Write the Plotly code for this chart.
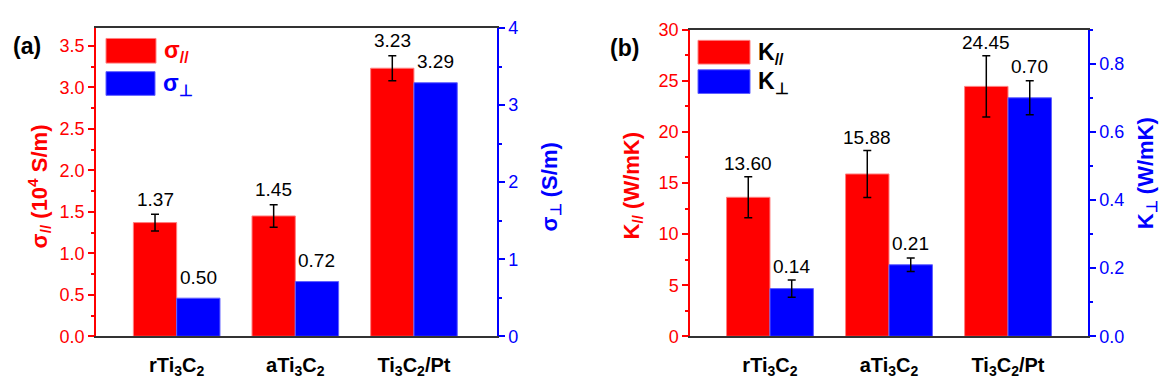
import plotly.graph_objects as go

W, H = 1164, 389

# ---------------- data ----------------
categories = ["rTi<sub>3</sub>C<sub>2</sub>", "aTi<sub>3</sub>C<sub>2</sub>", "Ti<sub>3</sub>C<sub>2</sub>/Pt"]

sigma_par = [1.37, 1.45, 3.23]          # 10^4 S/m
sigma_par_err = [0.10, 0.135, 0.15]
sigma_perp = [0.50, 0.72, 3.29]         # S/m (labels)
sigma_perp_plot = [0.495, 0.71, 3.29]   # S/m (bar heights)

k_par = [13.60, 15.88, 24.45]           # W/mK
k_par_err = [2.0, 2.3, 3.0]
k_perp = [0.14, 0.21, 0.70]             # W/mK
k_perp_err = [0.025, 0.02, 0.05]

FONT = "Liberation Sans, Arial, sans-serif"
RED = "#FF0000"
BLUE = "#0000FF"
BW = 0.365


def px(x):
    return x / W


def py(y):
    return 1 - y / H


fig = go.Figure()
xs = list(range(len(categories)))

err_style = dict(type="data", color="black", thickness=1.5, width=4, visible=True)

# panel (a)
fig.add_trace(go.Bar(x=xs, y=sigma_par, width=BW, offset=-BW, xaxis="x", yaxis="y",
                     marker=dict(color=RED, line=dict(color="#FF8080", width=1)),
                     error_y=dict(array=sigma_par_err, **err_style), showlegend=False))
fig.add_trace(go.Bar(x=xs, y=sigma_perp_plot, width=BW, offset=0, xaxis="x", yaxis="y2",
                     marker=dict(color=BLUE, line=dict(color="#6060FF", width=1)),
                     showlegend=False))
# panel (b)
fig.add_trace(go.Bar(x=xs, y=k_par, width=BW, offset=-BW, xaxis="x2", yaxis="y3",
                     marker=dict(color=RED, line=dict(color="#FF8080", width=1)),
                     error_y=dict(array=k_par_err, **err_style), showlegend=False))
fig.add_trace(go.Bar(x=xs, y=k_perp, width=BW, offset=0, xaxis="x2", yaxis="y4",
                     marker=dict(color=BLUE, line=dict(color="#6060FF", width=1)),
                     error_y=dict(array=k_perp_err, **err_style), showlegend=False))

ann = []


def add_labels(vals, tops, xref, yref, dx, shift, fmt):
    for i, (v, t) in enumerate(zip(vals, tops)):
        ann.append(dict(x=i + dx, y=t, xref=xref, yref=yref, text=fmt.format(v),
                        showarrow=False, yanchor="middle", xanchor="center", yshift=shift,
                        font=dict(family=FONT, size=19, color="black")))


add_labels(sigma_par, [v + e for v, e in zip(sigma_par, sigma_par_err)], "x", "y", -BW / 2, 15, "{:.2f}")
add_labels(sigma_perp, sigma_perp_plot, "x", "y2", BW / 2, 21, "{:.2f}")
add_labels(k_par, [v + e for v, e in zip(k_par, k_par_err)], "x2", "y3", -BW / 2, 13, "{:.2f}")
add_labels(k_perp, [v + e for v, e in zip(k_perp, k_perp_err)], "x2", "y4", BW / 2, 14, "{:.2f}")


def vtitle(x, y, text, color):
    ann.append(dict(x=px(x), y=py(y), xref="paper", yref="paper", text=text, textangle=-90,
                    showarrow=False, xanchor="center", yanchor="middle",
                    font=dict(family=FONT, size=22, color=color)))


vtitle(39, 186, "<b>σ<sub>//</sub> (10<sup>4</sup> S/m)</b>", RED)
vtitle(551, 187, "<b>σ<sub>⊥</sub> (S/m)</b>", BLUE)
vtitle(633, 185, "<b>K<sub>//</sub> (W/mK)</b>", RED)
vtitle(1147, 172, "<b>K<sub>⊥</sub> (W/mK)</b>", BLUE)

for x, y, t in [(27, 38, "(a)"), (624, 40, "(b)")]:
    ann.append(dict(x=px(x), y=py(y), xref="paper", yref="paper", text="<b>" + t + "</b>",
                    showarrow=False, xanchor="center", yanchor="middle",
                    font=dict(family=FONT, size=23, color="black")))

shapes = []


def legend_item(x0, y0, x1, y1, fill, edge, text, tcolor):
    shapes.append(dict(type="rect", xref="paper", yref="paper", x0=px(x0), x1=px(x1),
                       y0=py(y1), y1=py(y0), fillcolor=fill, line=dict(color=edge, width=1)))
    ann.append(dict(x=px(x1 + 6), y=py((y0 + y1) / 2 + 1), xref="paper", yref="paper", text=text,
                    showarrow=False, xanchor="left", yanchor="middle",
                    font=dict(family=FONT, size=23, color=tcolor)))


legend_item(106, 30, 156, 56, RED, "#FF8080", "<b>σ<sub>//</sub></b>", RED)
legend_item(106, 65, 155, 90, BLUE, "#6060FF", "<b>σ<sub>⊥</sub></b>", BLUE)
legend_item(698, 32, 750, 57, RED, "#FF8080", "<b>K<sub>//</sub></b>", "black")
legend_item(698, 63, 750, 88, BLUE, "#6060FF", "<b>K<sub>⊥</sub></b>", "black")

ticktext = ["<b>" + c + "</b>" for c in categories]


def xaxis(domain, rng, anchor):
    return dict(domain=domain, range=rng, anchor=anchor, tickvals=xs, ticktext=ticktext,
                showline=True, mirror=True, linecolor="#333333", linewidth=1.5, ticks="",
                showgrid=False, zeroline=False, ticklabelstandoff=10,
                tickfont=dict(family=FONT, size=20, color="black"))


def yaxis(color, rng, dtick, mdtick, side, fmt, domain=None, overlaying=None, anchor=None):
    d = dict(range=rng, side=side, tickmode="linear", tick0=0, dtick=dtick, tickformat=fmt,
             showline=True, linecolor=color, linewidth=1.5, ticks="outside", ticklen=6,
             tickwidth=1.5, tickcolor=color, showgrid=False, zeroline=False,
             tickfont=dict(family=FONT, size=18, color=color),
             minor=dict(dtick=mdtick, tick0=0, ticks="outside", ticklen=3, tickwidth=1.5,
                        tickcolor=color, showgrid=False))
    if domain is not None:
        d["domain"] = domain
    if overlaying is not None:
        d["overlaying"] = overlaying
    if anchor is not None:
        d["anchor"] = anchor
    return d


ydom_a = [py(344), py(19)]
ydom_b = [py(344), py(20.7)]

fig.update_layout(
    width=W, height=H,
    margin=dict(l=0, r=0, t=0, b=0),
    paper_bgcolor="white", plot_bgcolor="white",
    showlegend=False,
    xaxis=xaxis([px(96), px(497)], [-0.68, 2.70], "y"),
    xaxis2=xaxis([px(690), px(1088)], [-0.672, 2.672], "y3"),
    yaxis=yaxis(RED, [0, 3.714], 0.5, 0.25, "left", ".1f", domain=ydom_a, anchor="x"),
    yaxis2=yaxis(BLUE, [0, 4], 1, 0.5, "right", "d", domain=ydom_a, overlaying="y", anchor="x"),
    yaxis3=yaxis(RED, [0, 30], 5, 2.5, "left", "d", domain=ydom_b, anchor="x2"),
    yaxis4=yaxis(BLUE, [0, 0.9], 0.2, 0.1, "right", ".1f", domain=ydom_b, overlaying="y3", anchor="x2"),
    annotations=ann,
    shapes=shapes,
)

fig.write_html("out.html")
